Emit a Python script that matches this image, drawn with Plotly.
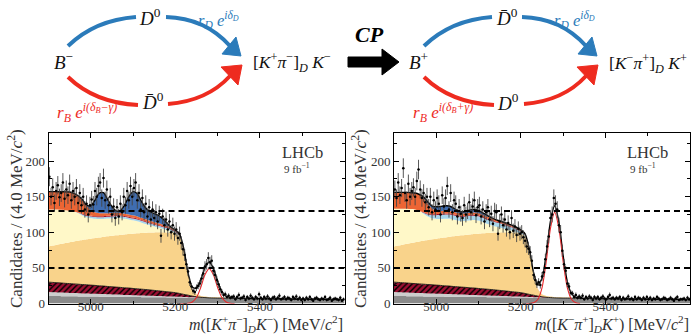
import numpy as np
import plotly.graph_objects as go

W, H = 691, 335

# ---------------- data ----------------
grid_m = list(range(4900, 5341, 10)) + [5370, 5400, 5450, 5500, 5550, 5600]
bin_m = list(range(4902, 5600, 4))

# fit components (thickness of each stacked layer), shared lower layers
comb = [10.5,10.4,10.4,10.3,10.2,10.1,10.1,10.0,9.9,9.9,9.8,
        9.7,9.6,9.6,9.5,9.4,9.4,9.3,9.2,9.2,9.1,
        9.0,8.9,8.9,8.8,8.7,8.7,8.6,8.5,8.5,8.4,
        8.3,8.2,8.2,8.1,8.0,7.9,7.9,7.8,7.7,7.6,7.6,7.5,7.4,7.3,
        7.1,6.9,6.6,6.2,5.9,5.5]
lgray = [5.5,5.4,5.2,5.1,4.9,4.8,4.6,4.5,4.3,4.2,4.0,
         3.9,3.7,3.6,3.4,3.3,3.1,3.0,2.8,2.7,2.5,
         2.4,2.3,2.1,2.0,1.9,1.7,1.6,1.4,1.3,1.2,
         1.0,0.8,0.7,0.5,0.4,0.3,0.2,0.1,0,0,0,0,0,0,
         0,0,0,0,0,0]
hatch = [14.0,13.8,13.6,13.4,13.2,13.0,12.8,12.6,12.4,12.2,12.0,
         11.8,11.5,11.3,11.0,10.8,10.5,10.3,10.0,9.8,9.5,
         9.2,8.9,8.6,8.2,7.8,7.4,7.0,6.6,6.1,5.6,
         4.8,3.8,2.8,1.8,1.0,0.5,0.2,0,0,0,0,0,0,0,
         0,0,0,0,0,0]
peach = [50.0,51.7,53.3,54.9,56.6,58.1,59.6,61.0,62.5,63.8,65.2,
         66.5,67.9,69.0,70.4,71.5,72.7,73.7,74.9,75.8,76.9,
         77.9,78.8,79.7,80.6,81.4,82.2,82.8,83.3,83.3,82.3,
         80.0,62.0,30.0,10.0,3.5,2.0,1.6,1.3,1.1,0.9,0.7,0.5,0.3,0.2,
         0,0,0,0,0,0]

# B- panel upper layers
yellow_m = [52.0,50.7,49.5,47.8,46.1,44.5,41.9,38.4,34.4,30.9,28.5,
            26.9,25.8,25.2,24.9,24.7,24.3,23.5,22.1,20.5,18.8,
            16.8,14.6,12.2,10.2,8.4,6.6,5.0,3.6,2.3,1.5,
            0.5,0.2,0,0,0,0,0,0,0,0,0,0,0,0,
            0,0,0,0,0,0]
lblue_m = [0,0,0,0,0,0,0,0.8,1.5,2.0,2.5,
           2.5,2.5,2.5,2.5,2.5,2.5,2.5,2.5,2.5,2.5,
           2.5,2.5,2.5,2.5,2.5,2.5,2.5,2.5,2.0,1.5,
           1.0,0.6,0.3,0.1,0,0,0,0,0,0,0,0,0,0,
           0,0,0,0,0,0]
crimson_m = [0,0,0,0,0,0,0,0.5,1.0,1.3,1.3,
             1.3,1.3,1.3,1.3,1.3,1.3,1.3,1.3,1.3,1.3,
             1.3,1.3,1.3,1.0,1.0,1.0,1.0,1.0,1.0,0.8,
             0.5,0.3,0.1,0,0,0,0,0,0,0,0,0,0,0,
             0,0,0,0,0,0]
orange_m = [25.0,25.0,25.0,25.3,25.7,26.0,25.5,23.5,19.0,13.0,8.0,
            5.5,4.5,4.0,3.8,3.6,3.5,3.4,3.3,3.2,3.1,
            3.0,2.9,2.8,2.7,2.6,2.5,2.4,2.2,2.0,1.7,
            1.3,0.9,0.6,0.4,0.2,0,0,0,0,0,0,0,0,0,
            0,0,0,0,0,0]
dblue_m = [0,0,0,0,0,0,0,0,1.0,0.7,5.7,
           17.0,28.0,29.0,19.0,9.0,2.7,3.5,12.0,25.0,33.3,
           32.0,22.8,16.0,13.0,11.7,10.9,8.1,3.9,0.5,0,
           0,0,0,0,0,0,0,0,0,0,0,0,0,0,
           0,0,0,0,0,0]
signal_m = [0]*33 + [0.4,2.2,8.4,22.4,40.3,49.0,40.3,22.4,8.4,2.2,0.4] + [0]*7

# B+ panel upper layers
yellow_p = [53.0,51.7,50.5,49.3,47.6,46.0,42.9,37.9,32.9,29.4,27.5,
            26.6,26.3,25.5,23.7,21.5,19.8,19.7,20.1,19.8,18.5,
            16.0,13.1,10.7,8.4,6.7,5.0,3.5,2.2,1.3,1.0,
            0.5,0.2,0,0,0,0,0,0,0,0,0,0,0,0,
            0,0,0,0,0,0]
lblue_p = [0,0,0,0,0,0,0,1.5,3.0,4.5,5.5,
           6,6,6,6,6,6,6,6,6,6,
           6,6,6,6,6,5.5,5.0,4.5,3.5,2.5,
           1.5,0.8,0.3,0,0,0,0,0,0,0,0,0,0,0,
           0,0,0,0,0,0]
crimson_p = crimson_m
orange_p = [23,23,23,23,23,23,23,20,14,8,5,
            4.0,3.8,3.6,3.5,3.4,3.3,3.2,3.1,3.0,2.9,
            2.8,2.7,2.6,2.5,2.4,2.3,2.2,2.0,1.8,1.5,
            1.2,0.8,0.5,0.3,0.1,0,0,0,0,0,0,0,0,0,
            0,0,0,0,0,0]
dblue_p = [0,0,0,0,0,0,0,1.5,2.5,3.5,5.5,
           6.5,7.0,7.0,5.5,3.5,2.5,3.0,4.0,4.3,3.8,
           2.7,1.8,0.8,0.2,0,0,0,0,0,0,
           0,0,0,0,0,0,0,0,0,0,0,0,0,0,
           0,0,0,0,0,0]
signal_p = [0]*33 + [1.0,5.6,22.0,58.6,105.3,128.0,105.3,58.6,22.0,5.6,1.0] + [0]*7

counts_m = [178,150,163,141,158,166,149,155,170,147,
            160,152,168,145,158,150,162,141,155,138,
            150,132,140,125,138,146,139,158,150,165,
            170,148,176,145,160,138,150,125,136,120,
            135,122,140,128,150,138,158,145,165,150,
            162,170,145,155,132,148,128,140,122,135,
            118,132,120,128,115,126,95,122,110,118,
            104,115,100,110,98,104,92,98,85,76,
            68,55,45,30,24,18,16,22,25,28,
            35,42,52,55,64,58,60,46,40,33,
            27,20,16,12,13,9,11,8,9,10,
            6,9,12,7,8,10,5,9,7,11,
            8,6,9,7,13,8,6,9,7,10,
            7,5,8,9,6,8,11,6,7,9,
            6,8,7,5,9,7,10,6,8,5,
            7,5,8,6,9,6,4,7,8,6,
            5,7,6,9,5,6,8,4,6,7,
            6,5,8,4,6]
counts_p = [160,148,170,152,162,190,155,145,168,150,
            158,163,150,172,188,160,148,155,142,150,
            135,150,128,145,132,148,140,125,152,136,
            148,165,132,155,128,145,140,122,135,126,
            120,138,125,130,142,128,136,145,124,135,
            138,122,132,115,128,135,118,126,112,130,
            128,98,115,125,110,118,104,113,100,120,
            102,108,96,105,98,100,93,88,80,77,
            72,60,40,33,27,30,26,38,44,62,
            80,94,120,125,148,140,132,110,100,74,
            55,46,28,24,15,14,9,12,8,10,
            8,11,6,9,7,10,8,5,9,7,
            9,6,8,10,7,6,9,12,7,8,
            6,8,7,9,5,8,6,7,10,6,
            7,5,9,6,8,7,5,8,6,9,
            6,8,5,7,6,9,7,5,6,8,
            7,5,6,8,6,4,7,9,5,6,
            6,7,5,8,6]

dash_levels = [50, 130]
x_ticks = [5000, 5200, 5400]

# ---------------- style ----------------
SERIF = "Liberation Serif"
layer_colors = ['#8a8a8a', '#cdcdcd', '#9c0f32', '#f9d38b', '#fff8c8',
                '#a6d5ea', '#a3122f', '#ec6534', '#3f6db1']

fig = go.Figure()


def add_panel(xa, ya, uppers, signal, counts):
    layers = [comb, lgray, hatch, peach] + uppers
    cum = np.cumsum(np.array(layers, dtype=float), axis=0)
    for i, top in enumerate(cum):
        kw = dict(x=grid_m, y=top, xaxis=xa, yaxis=ya, mode='lines',
                  line=dict(width=0, shape='spline', smoothing=0.7, color=layer_colors[i]),
                  fill='tozeroy' if i == 0 else 'tonexty',
                  fillcolor=layer_colors[i], hoverinfo='skip', showlegend=False)
        if i == 2:
            kw['fillpattern'] = dict(shape='/', fgcolor='black', bgcolor=layer_colors[i],
                                     size=4, solidity=0.35, fillmode='replace')
            kw['line'] = dict(width=0.8, shape='spline', smoothing=0.7, color='black')
        fig.add_trace(go.Scatter(**kw))
    sig = np.array(signal, dtype=float)
    total = cum[-1] + sig
    fig.add_trace(go.Scatter(x=grid_m, y=total, xaxis=xa, yaxis=ya, mode='lines',
                             line=dict(color='black', width=1.4, shape='spline', smoothing=0.7),
                             hoverinfo='skip', showlegend=False))
    fig.add_trace(go.Scatter(x=grid_m[31:45], y=sig[31:45], xaxis=xa, yaxis=ya, mode='lines',
                             line=dict(color='#e8272a', width=1.1, shape='spline', smoothing=0.8),
                             hoverinfo='skip', showlegend=False))
    c = np.array(counts, dtype=float)
    fig.add_trace(go.Scatter(x=bin_m, y=c, xaxis=xa, yaxis=ya, mode='markers',
                             marker=dict(color='black', size=2.5),
                             error_y=dict(type='data', array=np.sqrt(c), color='#444444',
                                          thickness=0.9, width=0),
                             error_x=dict(type='constant', value=2, color='#444444',
                                          thickness=0.9, width=0),
                             hoverinfo='skip', showlegend=False))


add_panel('x', 'y', [yellow_m, lblue_m, crimson_m, orange_m, dblue_m], signal_m, counts_m)
add_panel('x2', 'y2', [yellow_p, lblue_p, crimson_p, orange_p, dblue_p], signal_p, counts_p)

tickfont = dict(family=SERIF, size=13, color='#333333')
common_x = dict(range=[4900, 5600], tickvals=x_ticks, ticks='inside', ticklen=5,
                tickcolor='black', showline=True, linecolor='black', linewidth=1,
                mirror='allticks', showgrid=False, zeroline=False, tickfont=tickfont,
                ticklabelstandoff=-9,
                minor=dict(dtick=100, ticklen=3, ticks='inside', tickcolor='black'),
                automargin=False)
common_y = dict(range=[0, 240], dtick=50, ticks='inside', ticklen=5,
                tickcolor='black', showline=True, linecolor='black', linewidth=1,
                mirror='allticks', showgrid=False, zeroline=False, tickfont=tickfont,
                minor=dict(dtick=25, ticklen=3, ticks='inside', tickcolor='black'),
                automargin=False)
ydom = [1 - 303.5 / H, 1 - 132.5 / H]
fig.update_layout(
    width=W, height=H, autosize=False,
    margin=dict(l=0, r=0, t=0, b=0, pad=0),
    paper_bgcolor='white', plot_bgcolor='white',
    xaxis=dict(domain=[48.5 / W, 344.5 / W], anchor='y', **common_x),
    yaxis=dict(domain=ydom, anchor='x', **common_y),
    xaxis2=dict(domain=[394 / W, 690 / W], anchor='y2', **common_x),
    yaxis2=dict(domain=ydom, anchor='x2', **common_y),
)

shapes = []
for xa, ya in (('x', 'y'), ('x2', 'y2')):
    for lv in dash_levels:
        shapes.append(dict(type='line', xref=xa, yref=ya, x0=4900, x1=5600, y0=lv, y1=lv,
                           line=dict(color='black', width=2, dash='6px,4px')))


def ppath(s, dx=0):
    out, t = [], 0
    for tok in s.split():
        if tok.isalpha():
            out.append(tok); t = 0
        else:
            v = float(tok)
            out.append(f"{(v + dx) / W:.5f}" if t == 0 else f"{1 - v / H:.5f}")
            t ^= 1
    return " ".join(out)


BLUE, RED = '#2b7bba', '#ee2b1f'
for dx in (0, 356):
    for p, col in (("M 68 46 Q 95 20 136 17", BLUE), ("M 166 17 Q 205 18 230 46", BLUE),
                   ("M 68 77 Q 95 103 138 105", RED), ("M 168 104 Q 207 101 230 76", RED)):
        shapes.append(dict(type='path', xref='paper', yref='paper', path=ppath(p, dx),
                           line=dict(color=col, width=4)))
    shapes.append(dict(type='path', xref='paper', yref='paper',
                       path=ppath("M 241 56 L 222 54 L 236 37 Z", dx),
                       fillcolor=BLUE, line=dict(color=BLUE, width=1)))
    shapes.append(dict(type='path', xref='paper', yref='paper',
                       path=ppath("M 242 65 L 221 67 L 238 85 Z", dx),
                       fillcolor=RED, line=dict(color=RED, width=1)))
shapes.append(dict(type='path', xref='paper', yref='paper',
                   path=ppath("M 348 57 L 382 57 L 382 49 L 399 62 L 382 75 L 382 67 L 348 67 Z"),
                   fillcolor='black', line=dict(color='black', width=1)))
fig.update_layout(shapes=shapes)

ann = []


def A(text, x, y, size=16, color='#111111', xanchor='center', angle=0):
    ann.append(dict(text=text, x=x / W, y=1 - y / H, xref='paper', yref='paper',
                    showarrow=False, xanchor=xanchor, yanchor='middle', textangle=angle,
                    font=dict(family=SERIF, size=size, color=color)))


# diagram texts
A("<i>B</i><sup>−</sup>", 63, 61, 19)
A("<i>D</i><sup>0</sup>", 150, 17, 19)
A("<i>D̄</i><sup>0</sup>", 153, 101, 19)
A("<i>r<sub>D</sub> e<sup>iδ<sub>D</sub></sup></i>", 218, 20, 16.5, BLUE)
A("<i>r<sub>B</sub> e<sup>i(δ<sub>B</sub>−γ)</sup></i>", 87, 112, 17, RED)
A("[<i>K</i><sup>+</sup><i>π</i><sup>−</sup>]<sub><i>D</i></sub> <i>K</i><sup>−</sup>", 292, 62, 17.5)
A("<b><i>CP</i></b>", 369, 35, 22, 'black')
A("<i>B</i><sup>+</sup>", 418, 61, 19)
A("<i>D̄</i><sup>0</sup>", 507, 17, 19)
A("<i>D</i><sup>0</sup>", 508, 102, 19)
A("<i>r<sub>D</sub> e<sup>iδ<sub>D</sub></sup></i>", 574, 20, 16.5, BLUE)
A("<i>r<sub>B</sub> e<sup>i(δ<sub>B</sub>+γ)</sup></i>", 443, 112, 17, RED)
A("[<i>K</i><sup>−</sup><i>π</i><sup>+</sup>]<sub><i>D</i></sub> <i>K</i><sup>+</sup>", 648, 63, 17.5)

# axis titles and LHCb labels
ytitle = "Candidates / (4.0 MeV/<i>c</i><sup>2</sup>)"
A(ytitle, 15, 219, 17, '#333333', angle=-90)
A(ytitle, 359, 219, 17, '#333333', angle=-90)
A("<i>m</i>([<i>K</i><sup>+</sup><i>π</i><sup>−</sup>]<sub><i>D</i></sub><i>K</i><sup>−</sup>) [MeV/<i>c</i><sup>2</sup>]",
  345, 323.5, 16, '#333333', xanchor='right')
A("<i>m</i>([<i>K</i><sup>−</sup><i>π</i><sup>+</sup>]<sub><i>D</i></sub><i>K</i><sup>+</sup>) [MeV/<i>c</i><sup>2</sup>]",
  691, 323.5, 16, '#333333', xanchor='right')
for dx in (0, 345.5):
    A("LHCb", 302 + dx, 152, 16.5, '#333333')
    A("9 fb<sup>−1</sup>", 282 + dx, 168, 11, '#333333', xanchor='left')

fig.update_layout(annotations=ann)
fig.write_html("out.html")
